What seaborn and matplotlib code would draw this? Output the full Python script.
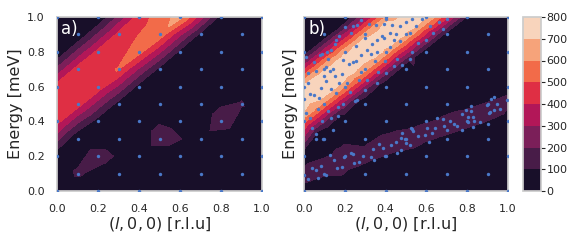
import matplotlib
matplotlib.use('Agg')
import numpy as np
import matplotlib.pyplot as plt
import seaborn as sns

'''measurement grid (checkerboard, shared by both panels)'''
grid_x = [0.0, 0.2, 0.4, 0.6, 0.8, 1.0,
          0.1, 0.3, 0.5, 0.7, 0.9,
          0.0, 0.2, 0.4, 0.6, 0.8, 1.0,
          0.1, 0.3, 0.5, 0.7, 0.9,
          0.0, 0.2, 0.4, 0.6, 0.8, 1.0,
          0.1, 0.3, 0.5, 0.7, 0.9,
          0.0, 0.2, 0.4, 0.6, 0.8, 1.0,
          0.1, 0.3, 0.5, 0.7, 0.9,
          0.0, 0.2, 0.4, 0.6, 0.8, 1.0,
          0.1, 0.3, 0.5, 0.7, 0.9,
          0.0, 0.2, 0.4, 0.6, 0.8, 1.0]
grid_y = [0.0] * 6 + [0.1] * 5 + [0.2] * 6 + [0.3] * 5 + [0.4] * 6 + [0.5] * 5 \
    + [0.6] * 6 + [0.7] * 5 + [0.8] * 6 + [0.9] * 5 + [1.0] * 6

# intensity on the grid, panel a)
z_a = [0, 0, 0, 0, 0, 0,
       118, 0, 0, 0, 0,
       25, 160, 0, 0, 0, 0,
       0, 0, 170, 40, 0,
       440, 50, 0, 50, 170, 30,
       450, 60, 0, 0, 110,
       450, 460, 60, 0, 0, 0,
       445, 505, 70, 0, 0,
       0, 430, 540, 70, 0, 0,
       0, 430, 570, 70, 0,
       0, 0, 450, 640, 60, 0]

# intensity on the grid, panel b)
z_b_grid = [0, 0, 0, 0, 0, 0,
            135, 0, 0, 0, 0,
            0, 172, 90, 0, 0, 0,
            0, 38, 180, 45, 0,
            530, 0, 0, 80, 174, 0,
            565, 0, 0, 0, 125,
            720, 600, 0, 0, 0, 0,
            700, 635, 0, 0, 0,
            25, 670, 670, 25, 0, 0,
            0, 635, 700, 50, 0,
            0, 0, 600, 720, 90, 0]

'''extra points of panel b) - upper branch'''
up_x = [0.00, 0.01, 0.02, 0.04, 0.05, 0.06, 0.07, 0.074, 0.08, 0.085, 0.09, 0.09,
        0.10, 0.106, 0.114, 0.118, 0.12, 0.126, 0.134, 0.14, 0.15, 0.158, 0.158,
        0.167, 0.172, 0.186, 0.191, 0.203, 0.21, 0.224, 0.229, 0.24, 0.25, 0.253,
        0.257, 0.26, 0.261, 0.27, 0.281, 0.297, 0.309, 0.317, 0.33, 0.335, 0.346,
        0.355, 0.364, 0.384, 0.394, 0.395, 0.404, 0.42, 0.433, 0.44, 0.458, 0.472,
        0.482, 0.50, 0.518, 0.53, 0.55, 0.56, 0.58, 0.60, 0.62, 0.63, 0.66, 0.68,
        0.70, 0.03, 0.02, 0.05, 0.13, 0.17, 0.30, 0.36, 0.45, 0.28, 0.40, 0.06,
        0.01, 0.13, 0.19, 0.36, 0.52, 0.06, 0.093, 0.167,
        0.03, 0.11, 0.15, 0.22, 0.28, 0.31, 0.39, 0.42, 0.47, 0.53, 0.14, 0.24,
        0.36, 0.44]
up_y = [0.53, 0.45, 0.62, 0.36, 0.55, 0.69, 0.47, 0.533, 0.78, 0.594, 0.40, 0.785,
        0.66, 0.715, 0.797, 0.757, 0.46, 0.692, 0.584, 0.35, 0.845, 0.87, 0.561,
        0.485, 0.891, 0.672, 0.753, 0.941, 0.62, 0.571, 0.906, 0.948, 0.52, 0.749,
        0.835, 0.523, 0.954, 0.64, 0.686, 0.58, 0.638, 0.96, 0.79, 0.843, 0.749,
        0.954, 0.686, 0.891, 0.962, 0.749, 0.68, 0.83, 0.952, 0.72, 0.757, 0.862,
        0.724, 0.97, 0.906, 0.80, 0.95, 0.85, 0.99, 0.87, 0.95, 0.91, 0.97, 0.93,
        0.99, 0.42, 0.68, 0.74, 0.81, 0.62, 0.88, 0.80, 0.90, 0.98, 0.99, 0.30,
        0.77, 0.42, 0.50, 0.62, 0.76, 0.33, 0.297, 0.433,
        0.56, 0.63, 0.66, 0.73, 0.78, 0.81, 0.88, 0.91, 0.95, 0.99, 0.70, 0.74,
        0.87, 0.87]
up_z = [790, 670, 720, 260, 790, 610, 560, 730, 360, 790, 240, 370,
        770, 670, 410, 570, 360, 760, 730, 0, 350, 290, 600,
        300, 260, 790, 760, 170, 640, 430, 390, 270, 140, 790,
        710, 120, 320, 520, 650, 210, 390, 480, 780, 790, 660,
        620, 380, 790, 710, 510, 220, 700, 790, 250, 310, 660,
        110, 790, 670, 250, 710, 320, 730, 280, 510, 310, 450, 230,
        390, 510, 530, 410, 410, 730, 700, 760, 780, 290, 630, 20,
        160, 170, 270, 140, 130, 70, 0, 90,
        790, 790, 785, 790, 790, 790, 790, 785, 790, 790, 760, 790,
        785, 740]

'''extra points of panel b) - lower branch'''
low_x = [0.00, 0.02, 0.04, 0.06, 0.07, 0.085, 0.11, 0.126, 0.145, 0.16, 0.188,
         0.196, 0.232, 0.24, 0.243, 0.268, 0.29, 0.33, 0.338, 0.343, 0.37, 0.387,
         0.399, 0.428, 0.449, 0.458, 0.474, 0.477, 0.479, 0.495, 0.498, 0.52,
         0.526, 0.528, 0.536, 0.56, 0.593, 0.601, 0.613, 0.626, 0.64, 0.653, 0.68,
         0.686, 0.70, 0.716, 0.737, 0.752, 0.773, 0.773, 0.792, 0.802, 0.806,
         0.819, 0.819, 0.828, 0.83, 0.835, 0.865, 0.899, 0.904, 0.907, 0.912,
         0.915, 0.931, 0.932, 0.944, 0.96, 0.997]
low_y = [0.09, 0.07, 0.13, 0.12, 0.073, 0.144, 0.09, 0.207, 0.178, 0.13, 0.136,
         0.197, 0.22, 0.21, 0.163, 0.169, 0.20, 0.197, 0.241, 0.178, 0.27, 0.249,
         0.201, 0.264, 0.284, 0.216, 0.236, 0.303, 0.331, 0.299, 0.274, 0.264,
         0.364, 0.354, 0.345, 0.316, 0.322, 0.36, 0.284, 0.331, 0.36, 0.418, 0.412,
         0.375, 0.35, 0.402, 0.385, 0.374, 0.351, 0.443, 0.466, 0.427, 0.398,
         0.489, 0.462, 0.427, 0.366, 0.404, 0.398, 0.494, 0.383, 0.446, 0.456,
         0.527, 0.542, 0.466, 0.50, 0.47, 0.523]
low_z = [178, 140, 176, 180, 95, 178, 100, 90, 171, 150, 140,
         172, 160, 175, 150, 142, 176, 150, 179, 90, 166, 180,
         90, 180, 179, 75, 108, 175, 130, 180, 168, 133,
         92, 122, 150, 180, 177, 168, 88, 175, 179, 85, 128,
         180, 162, 173, 180, 168, 98, 140, 102, 178, 172,
         75, 140, 180, 80, 164, 125, 138, 55, 177, 180,
         72, 55, 180, 162, 178, 160]

levels = list(range(0, 900, 100))

sns.set_theme(style='whitegrid')
plt.rcParams['font.family'] = ['DejaVu Sans']
cmap = sns.color_palette('rocket', as_cmap=True)
dot_color = '#4a78c8'

fig = plt.figure(figsize=(5.81, 2.42), dpi=100)
ax_a = fig.add_axes([57 / 581, 51 / 242, 205 / 581, 174 / 242])
ax_b = fig.add_axes([304 / 581, 51 / 242, 204 / 581, 174 / 242])
cax = fig.add_axes([523 / 581, 51 / 242, 18 / 581, 174 / 242])

# panel a
ax_a.tricontourf(grid_x, grid_y, z_a, levels=levels, cmap=cmap)
sns.scatterplot(x=grid_x, y=grid_y, ax=ax_a, s=6, color=dot_color,
                linewidth=0, zorder=3)

# panel b
all_x = grid_x + up_x + low_x
all_y = grid_y + up_y + low_y
all_z = z_b_grid + up_z + low_z
cs = ax_b.tricontourf(all_x, all_y, all_z, levels=levels, cmap=cmap)
sns.scatterplot(x=all_x, y=all_y, ax=ax_b, s=6, color=dot_color,
                linewidth=0, zorder=3)

for ax, tag in [(ax_a, 'a)'), (ax_b, 'b)')]:
    ax.grid(False)
    ax.set_xlim(0, 1)
    ax.set_ylim(0, 1)
    ax.set_xticks([0, 0.2, 0.4, 0.6, 0.8, 1.0])
    ax.set_yticks([0, 0.2, 0.4, 0.6, 0.8, 1.0])
    ax.tick_params(labelsize=8, pad=3)
    ax.set_xlabel(r'$(l, 0, 0)$ [r.l.u]', fontsize=11.5, labelpad=1)
    ax.set_ylabel('Energy [meV]', fontsize=11.5, labelpad=3)
    ax.text(0.02, 0.985, tag, transform=ax.transAxes, color='white',
            fontsize=12, va='top', ha='left')

ax_b.tick_params(axis='y', labelleft=False)
ax_b.set_ylabel('Energy [meV]', fontsize=11.5, labelpad=4)

cb = fig.colorbar(cs, cax=cax, ticks=levels)
cb.outline.set_edgecolor('.8')
cax.tick_params(labelsize=8, right=True, length=3, width=0.8, color='.15', pad=1)

fig.savefig('out.png', dpi=100)
